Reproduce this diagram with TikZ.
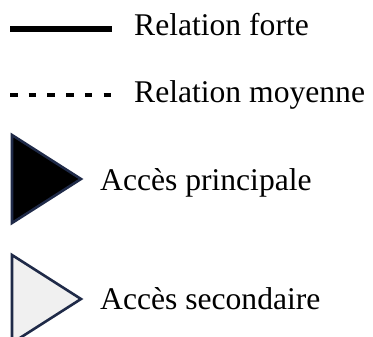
\documentclass[tikz,border=0pt]{standalone}
\usepackage{fontspec}
\setmainfont{Liberation Serif}
\usepackage{tikz}
\usetikzlibrary{positioning}
\definecolor{navy}{HTML}{1F2A48}
\definecolor{pale}{HTML}{F0F0F0}
\tikzset{
  fortedge/.style   = {black, line width=6pt},
  moyedge/.style = {black, line width=3.2pt, dash pattern=on 7.5pt off 11.2pt},
  mainacc/.style = {navy, line width=2.6pt, fill=black, line join=miter},
  secacc/.style = {navy, line width=2.6pt, fill=pale, line join=miter},
  legtext/.style = {anchor=base west, inner sep=0pt, font=\fontsize{31.6}{38}\selectfont},
}

\begin{document}
\begin{tikzpicture}[x=1pt,y=-1pt]
      \useasboundingbox (0,0) rectangle (373,337);
      \clip (0,0) rectangle (373,337);
      \coordinate (f1) at (10,29);
      \coordinate (f2) at (112,29);
      \coordinate (m1) at (10,95);
      \coordinate (m2) at (114,95);
      \node[legtext] (forte) at (134,36) {Relation forte};
      \node[legtext] (moy) at (134,103) {Relation moyenne};
      \node[legtext] (princ) at (100,191) {Accès principale};
      \node[legtext] (sec) at (100,309) {Accès secondaire};

      \draw[fortedge] (f1) -- (f2);
      \draw[moyedge] (m1) -- (m2);
      \draw[mainacc] (12,135) -- (81,179) -- (12,223) -- cycle;
      \draw[secacc] (12,255) -- (81,299) -- (12,343) -- cycle;
\end{tikzpicture}
\end{document}
